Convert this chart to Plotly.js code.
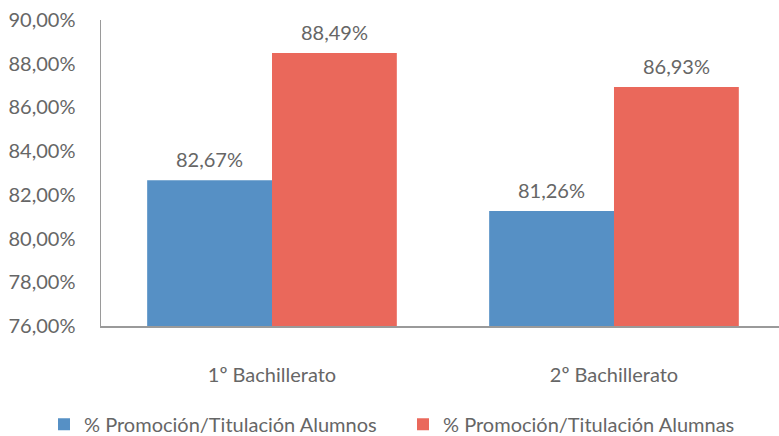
<!DOCTYPE html>
<html><head><meta charset="utf-8">
<script src="https://cdn.plot.ly/plotly-3.0.1.min.js"></script>
<style>html,body{margin:0;padding:0;background:#fff}</style>
</head><body><div id="chart" style="width:779px;height:436px"></div>
<script>
var categories = ['1º Bachillerato', '2º Bachillerato'];
var seriesNames = ['% Promoción/Titulación Alumnos', '% Promoción/Titulación Alumnas'];
var alumnos = [0.8267, 0.8126];
var alumnas = [0.8849, 0.8693];
var yTicks = [0.76, 0.78, 0.80, 0.82, 0.84, 0.86, 0.88, 0.90];

var fmt = function(v){ return (v*100).toFixed(2).replace('.', ',') + '%'; };
var FAM = 'Lato, "Open Sans", sans-serif';
var GRAY = '#666666';
var font = {family: FAM, size: 20, color: GRAY};

var traces = [
  {type:'bar', name: seriesNames[0], x: categories, y: alumnos, marker:{color:'#5690C5'}, hoverinfo:'none', legend:'legend'},
  {type:'bar', name: seriesNames[1], x: categories, y: alumnas, marker:{color:'#EA685B'}, hoverinfo:'none', legend:'legend2'}
];

var annotations = [];
[alumnos, alumnas].forEach(function(series, si){
  series.forEach(function(v, ci){
    annotations.push({x: categories[ci], y: v, xref:'x', yref:'y', text: fmt(v),
      showarrow:false, xshift: si === 0 ? -62.5 : 62.5, yanchor:'bottom', yshift: 7,
      font: font});
  });
});

var legFont = {family:FAM, size:20, color:GRAY};
var legY = -0.385;
var layout = {
  width: 779, height: 436,
  margin: {l:101, r:0, t:20, b:110, autoexpand:false},
  separators: ',.',
  barmode: 'group', bargap: 0.27, bargroupgap: 0,
  paper_bgcolor:'#fff', plot_bgcolor:'#fff',
  font: font,
  showlegend: true,
  annotations: annotations,
  legend: {orientation:'h', x:44/779, xref:'container', xanchor:'left', y:legY, yref:'paper', yanchor:'bottom',
           font:legFont},
  legend2: {orientation:'h', x:403/779, xref:'container', xanchor:'left', y:legY, yref:'paper', yanchor:'bottom',
           font:legFont},
  xaxis: {range:[-0.5, 1.4825], showline:true, linecolor:'#9a9a9a', linewidth:2,
          ticks:'', ticklabelstandoff: 30, tickfont:{family:FAM, size:20, color:GRAY}, fixedrange:true},
  yaxis: {range:[0.76, 0.90], tickvals: yTicks, tickformat:'.2%', showline:true,
          linecolor:'#9a9a9a', linewidth:1.5, showgrid:false, zeroline:false, ticks:'',
          ticklabelstandoff: 20, tickfont:font, fixedrange:true}
};
Plotly.newPlot('chart', traces, layout, {displayModeBar:false, staticPlot:true});
</script></body></html>
